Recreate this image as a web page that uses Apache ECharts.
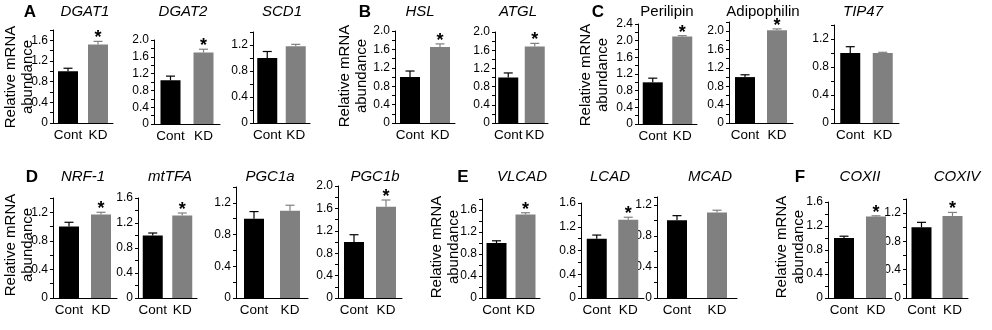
<!DOCTYPE html>
<html>
<head>
<meta charset="utf-8">
<script src="https://cdn.jsdelivr.net/npm/echarts@6/dist/echarts.min.js"></script>
<style>
html, body { margin: 0; padding: 0; background: #fff; }
#main { width: 992px; height: 330px; }
</style>
</head>
<body>
<div id="main"></div>
<script>
// 数据
var cats = ['Cont', 'KD'];
var genes = ['DGAT1', 'DGAT2', 'SCD1', 'HSL', 'ATGL', 'Perilipin', 'Adipophilin', 'TIP47',
             'NRF-1', 'mtTFA', 'PGC1a', 'PGC1b', 'VLCAD', 'LCAD', 'MCAD', 'COXII', 'COXIV'];
var contMean = [1.0, 1.04, 1.0, 1.0, 1.0, 1.0, 1.0, 1.0,
                1.0, 1.0, 1.0, 1.0, 1.0, 1.0, 1.0, 1.0, 1.0];
var contErr = [0.06, 0.1, 0.1, 0.13, 0.1, 0.1, 0.05, 0.09,
               0.06, 0.04, 0.09, 0.13, 0.04, 0.06, 0.06, 0.03, 0.07];
var kdMean = [1.52, 1.7, 1.18, 1.65, 1.68, 2.1, 2.02, 1.0,
              1.17, 1.32, 1.1, 1.63, 1.52, 1.32, 1.1, 1.36, 1.16];
var kdErr = [0.06, 0.08, 0.03, 0.07, 0.07, 0.02, 0.03, 0.01,
             0.03, 0.04, 0.07, 0.12, 0.03, 0.04, 0.03, 0.01, 0.05];
var sig = [1, 1, 0, 1, 1, 1, 1, 0,
           1, 1, 0, 1, 1, 1, 0, 1, 1];
var yMax = [1.8, 2.0, 1.4, 2.0, 2.0, 2.4, 2.2, 1.4,
            1.4, 1.6, 1.4, 2.0, 1.8, 1.6, 1.3, 1.6, 1.4];
var panelLetters = ['A', 'B', 'C', 'D', 'E', 'F'];

// 版面: [y轴x, x轴末端, 零线y, 顶部y, 标题x]
var layout = [
    [53, 113, 123, 30, 85], [154, 220, 124, 40, 183], [253, 310, 123, 32, 282],
    [395, 455, 123, 31, 420], [495, 548, 123, 32, 518], [638, 697, 124, 24, 667],
    [729, 793, 123, 22, 763], [834, 899, 123, 25, 863],
    [53, 117, 298, 198, 83], [138, 197, 298, 198, 170], [236, 308, 298, 187, 270],
    [338, 402, 298, 186, 375], [482, 540, 298, 199, 522], [581, 644, 298, 203, 610],
    [657, 737, 298, 197, 710], [828, 892, 298, 202, 860], [906, 968, 298, 199, 957]
];
var letterPos = [[30, 12], [365, 12], [598, 12], [32, 177], [463, 177], [800, 177]];
var ylabelPos = [[19, 77], [353, 76], [594, 75], [19, 245], [445, 247], [790, 247]];

var FONT = '"Liberation Sans", Arial, Helvetica, sans-serif';
var GRAY = '#808080';

var myChart = echarts.init(document.getElementById('main'));

var grids = [], xAxes = [], yAxes = [], series = [], graphics = [];

genes.forEach(function (g, i) {
    var L = layout[i];
    grids.push({ left: L[0], top: L[3], width: L[1] - L[0], height: L[2] - L[3] });
    xAxes.push({
        gridIndex: i,
        type: 'category',
        data: cats,
        axisTick: { show: false },
        axisLine: { lineStyle: { color: '#000', width: 1 } },
        axisLabel: { color: '#000', fontSize: 13.5, fontFamily: FONT, margin: 5, interval: 0 }
    });
    yAxes.push({
        gridIndex: i,
        type: 'value',
        min: 0,
        max: yMax[i],
        interval: 0.2,
        splitLine: { show: false },
        axisLine: { show: true, lineStyle: { color: '#000', width: 1 } },
        axisTick: { show: true, length: 3, lineStyle: { color: '#000' } },
        axisLabel: {
            color: '#000', fontSize: 12, fontFamily: FONT, margin: 5,
            formatter: function (v) {
                var k = Math.round(v * 10);
                if (k % 4 !== 0) return '';
                return k === 0 ? '0' : (k / 10).toFixed(1);
            }
        }
    });
    // 柱子
    series.push({
        type: 'bar',
        xAxisIndex: i,
        yAxisIndex: i,
        barWidth: 20,
        silent: true,
        data: [
            { value: contMean[i], itemStyle: { color: '#000' } },
            { value: kdMean[i], itemStyle: { color: GRAY } }
        ]
    });
    // 误差线 + 星号
    series.push({
        type: 'custom',
        xAxisIndex: i,
        yAxisIndex: i,
        clip: false,
        silent: true,
        data: [[0, contMean[i], contErr[i], 0], [1, kdMean[i], kdErr[i], sig[i]]],
        renderItem: function (params, api) {
            var c = api.value(0);
            var p0 = api.coord([c, api.value(1)]);
            var p1 = api.coord([c, api.value(1) + api.value(2)]);
            var col = c === 0 ? '#000' : GRAY;
            var children = [
                { type: 'line', shape: { x1: p0[0], y1: p0[1], x2: p1[0], y2: p1[1] }, style: { stroke: col, lineWidth: 1.2 } },
                { type: 'line', shape: { x1: p1[0] - 4.5, y1: p1[1], x2: p1[0] + 4.5, y2: p1[1] }, style: { stroke: col, lineWidth: 1.2 } }
            ];
            if (api.value(3)) {
                children.push({
                    type: 'text',
                    x: p1[0], y: p1[1] - 3,
                    style: { text: '*', fill: '#000', font: 'bold 18px ' + FONT, align: 'center', verticalAlign: 'middle' }
                });
            }
            return { type: 'group', children: children };
        }
    });
    // 标题
    var plain = (g === 'Perilipin' || g === 'Adipophilin');
    graphics.push({
        type: 'text',
        x: L[4], y: i < 8 ? 12 : 177,
        style: {
            text: g, fill: '#000', align: 'center', verticalAlign: 'middle',
            font: (plain ? '' : 'italic ') + '15px ' + FONT
        }
    });
});

panelLetters.forEach(function (t, k) {
    graphics.push({
        type: 'text',
        x: letterPos[k][0], y: letterPos[k][1],
        style: { text: t, fill: '#000', align: 'center', verticalAlign: 'middle', font: 'bold 17px ' + FONT }
    });
    graphics.push({
        type: 'text',
        x: ylabelPos[k][0], y: ylabelPos[k][1],
        rotation: Math.PI / 2,
        style: {
            text: 'Relative mRNA\nabundance', fill: '#000', align: 'center', verticalAlign: 'middle',
            font: '15px ' + FONT, lineHeight: 17
        }
    });
});

var option = {
    backgroundColor: '#fff',
    animation: false,
    grid: grids,
    xAxis: xAxes,
    yAxis: yAxes,
    series: series,
    graphic: graphics
};

myChart.setOption(option);
</script>
</body>
</html>
